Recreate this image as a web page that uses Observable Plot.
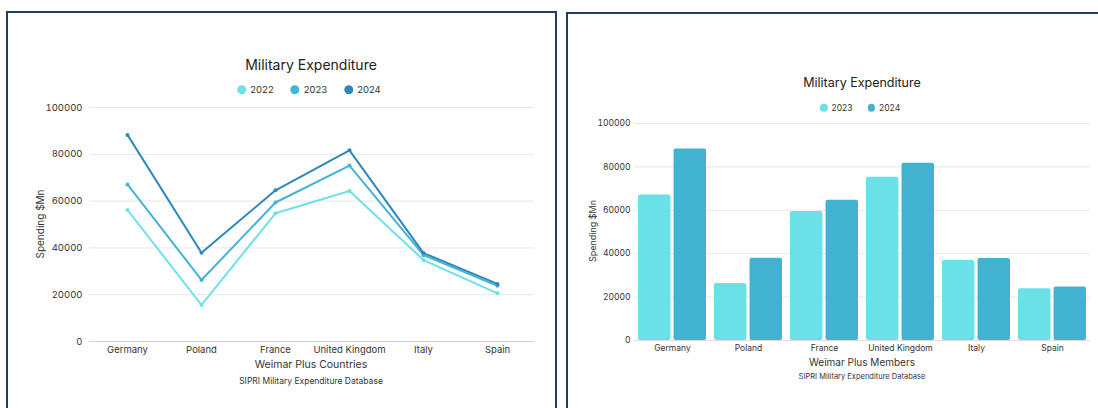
<!DOCTYPE html>
<html><head><meta charset="utf-8">
<script src="https://cdn.jsdelivr.net/npm/d3@7"></script>
<script src="https://cdn.jsdelivr.net/npm/@observablehq/plot@0.6"></script>
<style>
html,body{margin:0;padding:0;background:#fff;}
body{width:1098px;height:408px;overflow:hidden;position:relative;font-family:Inter,"DejaVu Sans",sans-serif;color:#222;}
.panel{position:absolute;border:2px solid #1b3e6d;box-sizing:border-box;background:#fff;}
.t{position:absolute;white-space:nowrap;transform:translate(-50%,-50%);line-height:1;}
.legend{position:absolute;display:flex;align-items:center;transform:translate(-50%,-50%);white-space:nowrap;line-height:1;}
.legend .item{display:flex;align-items:center;}
.legend .sw{border-radius:50%;display:inline-block;}
.chart{position:absolute;}
</style>
</head><body>
<div class="panel" style="left:6px;top:11px;width:551px;height:520px;"></div>
<div class="panel" style="left:566px;top:12px;width:600px;height:520px;"></div>
<div id="root"></div>
<script>
// ---- data ----
const countries = ["Germany", "Poland", "France", "United Kingdom", "Italy", "Spain"];
const spend2022 = [56200, 15600, 54800, 64300, 34800, 20600];
const spend2023 = [67100, 26300, 59400, 75200, 36900, 23800];
const spend2024 = [88300, 37900, 64600, 81700, 37800, 24600];
const lineYears = ["2022", "2023", "2024"];
const barYears = ["2023", "2024"];
const yTicks = [0, 20000, 40000, 60000, 80000, 100000];
const lineColors = ["#6fe0e8", "#43b4d4", "#2e88bd"];
const barColors = ["#6ae1e6", "#41b3d1"];

const seriesByYear = {"2022": spend2022, "2023": spend2023, "2024": spend2024};
const lineData = lineYears.flatMap(yr => countries.map((c, i) => ({country: c, year: yr, value: seriesByYear[yr][i]})));
const barData = barYears.flatMap(yr => countries.map((c, i) => ({country: c, year: yr, value: seriesByYear[yr][i]})));

const root = document.getElementById("root");
function addText(txt, x, y, size, extra = "") {
  const d = document.createElement("div");
  d.className = "t";
  d.textContent = txt;
  d.style.cssText = `left:${x}px;top:${y}px;font-size:${size}px;${extra}`;
  root.appendChild(d);
}
function addLegend(years, colors, x, y, size, r, gap) {
  const d = document.createElement("div");
  d.className = "legend";
  d.style.cssText = `left:${x}px;top:${y}px;font-size:${size}px;gap:${gap}px;color:#333;`;
  years.forEach((yr, i) => {
    const it = document.createElement("span");
    it.className = "item";
    it.innerHTML = `<span class="sw" style="width:${2*r}px;height:${2*r}px;background:${colors[i]};margin-right:4px"></span>${yr}`;
    d.appendChild(it);
  });
  root.appendChild(d);
}

// ---- left: line chart ----
const left = Plot.plot({
  width: 556, height: 300,
  marginLeft: 89, marginRight: 22, marginTop: 12, marginBottom: 54,
  style: {fontFamily: "Inter, sans-serif", fontSize: "9.5px", color: "#333", background: "transparent"},
  x: {type: "point", domain: countries, padding: 0.5, label: null},
  y: {domain: [0, 100000], label: null},
  color: {domain: lineYears, range: lineColors},
  marks: [
    Plot.gridY(yTicks, {stroke: "#e6e6e6", strokeOpacity: 1}),
    Plot.ruleY([0], {stroke: "#d0d0d0"}),
    Plot.axisY(yTicks, {tickSize: 0, tickPadding: 7, tickFormat: d3.format("d"), label: null}),
    Plot.axisX({tickSize: 0, tickPadding: 5, label: null}),
    Plot.line(lineData, {x: "country", y: "value", stroke: "year", strokeWidth: 2}),
    Plot.dot(lineData, {x: "country", y: "value", fill: "year", r: 2})
  ]
});
left.classList.add("chart");
left.style.left = "0px"; left.style.top = "95px";
root.appendChild(left);

addText("Military Expenditure", 311, 65, 14);
addLegend(lineYears, lineColors, 309, 90, 9.5, 4.5, 17);
addText("Spending $Mn", 40, 224, 10, "transform:translate(-50%,-50%) rotate(-90deg);color:#333;");
addText("Weimar Plus Countries", 311, 365, 10.5, "color:#333;");
addText("SIPRI Military Expenditure Database", 311, 381, 8.5, "color:#333;");

// ---- right: grouped bar chart ----
const plotW = 456, padIn = 0.1, padOut = 0.02;
const step = plotW / (countries.length - padIn + 2 * padOut);
const bw = step * (1 - padIn);
const half = bw / 2 + 1;
const right = Plot.plot({
  width: 538, height: 240,
  marginLeft: 74, marginRight: 8, marginTop: 8, marginBottom: 15,
  style: {fontFamily: "Inter, sans-serif", fontSize: "8.5px", color: "#333", background: "transparent"},
  x: {type: "band", domain: countries, paddingInner: padIn, paddingOuter: padOut, label: null},
  y: {domain: [0, 100000], label: null},
  color: {domain: barYears, range: barColors},
  marks: [
    Plot.gridY(yTicks, {stroke: "#e8e8e8", strokeOpacity: 1}),
    Plot.axisY(yTicks, {tickSize: 0, tickPadding: 4, tickFormat: d3.format("d"), label: null}),
    Plot.axisX({tickSize: 0, tickPadding: 4, label: null}),
    Plot.barY(barData.filter(d => d.year === barYears[0]), {x: "country", y: "value", fill: "year", insetRight: half, rx: 2}),
    Plot.barY(barData.filter(d => d.year === barYears[1]), {x: "country", y: "value", fill: "year", insetLeft: half, rx: 2}),
    Plot.ruleY([0], {stroke: "#dcdcdc"})
  ]
});
right.classList.add("chart");
right.style.left = "560px"; right.style.top = "115px";
root.appendChild(right);

addText("Military Expenditure", 862, 83, 12.5);
addLegend(barYears, barColors, 860, 108, 8.5, 3.8, 15);
addText("Spending $Mn", 592, 231, 9, "transform:translate(-50%,-50%) rotate(-90deg);color:#333;");
addText("Weimar Plus Members", 862, 362, 10, "color:#333;");
addText("SIPRI Military Expenditure Database", 862, 377, 7.5, "color:#333;");
</script>
</body></html>
